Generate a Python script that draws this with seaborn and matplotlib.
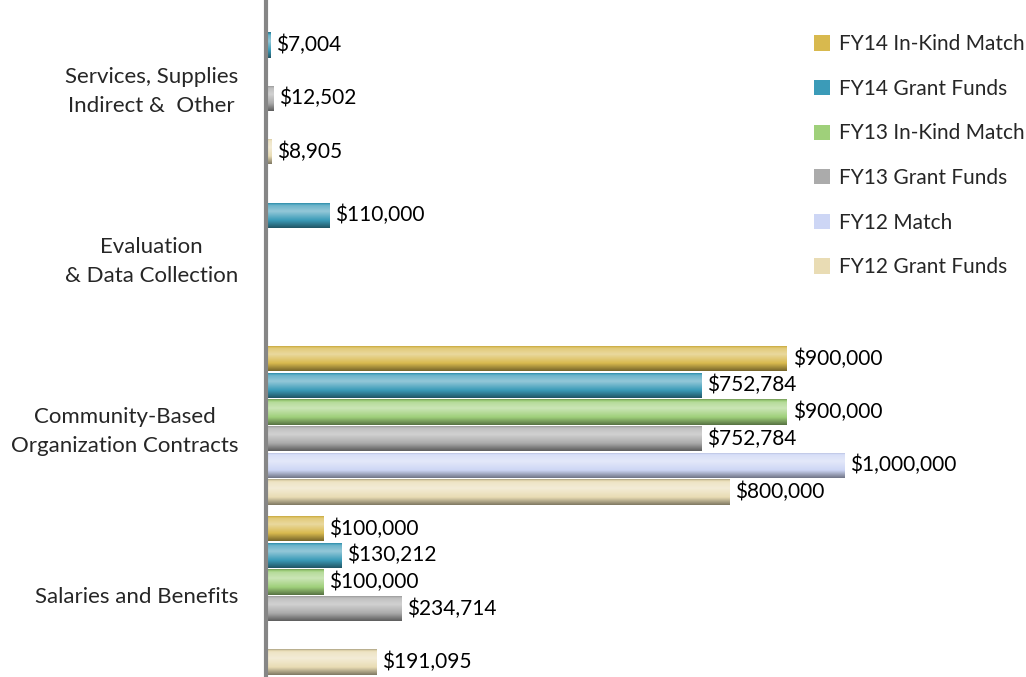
import numpy as np
import pandas as pd
import seaborn as sns
from matplotlib import pyplot as plt
from matplotlib.patches import Patch
from matplotlib.colors import to_rgb

# categories top to bottom
categories = ["Services, Supplies\nIndirect &  Other",
              "Evaluation\n& Data Collection",
              "Community-Based\nOrganization Contracts",
              "Salaries and Benefits"]

series = ["FY14 In-Kind Match", "FY14 Grant Funds", "FY13 In-Kind Match",
          "FY13 Grant Funds", "FY12 Match", "FY12 Grant Funds"]

fy14_match = [np.nan, np.nan, 900000, 100000]
fy14_grant = [7004, 110000, 752784, 130212]
fy13_match = [np.nan, np.nan, 900000, 100000]
fy13_grant = [12502, np.nan, 752784, 234714]
fy12_match = [np.nan, np.nan, 1000000, np.nan]
fy12_grant = [8905, np.nan, 800000, 191095]

colors = ["#d8b94e", "#3b9bb8", "#9fd07a", "#ababab", "#cdd6f5", "#e9dcb4"]

rows = []
for name, vals in zip(series, [fy14_match, fy14_grant, fy13_match,
                               fy13_grant, fy12_match, fy12_grant]):
    for cat, v in zip(categories, vals):
        rows.append({"category": cat, "series": name, "amount": v})
df = pd.DataFrame(rows).dropna()

sns.set_style("white")
plt.rcParams["font.family"] = ["Lato", "DejaVu Sans"]

fig = plt.figure(figsize=(10.26, 6.77), dpi=100)
ax = fig.add_axes([266 / 1026, 0, 734 / 1026, 1])

sns.barplot(data=df, x="amount", y="category", hue="series",
            order=categories, hue_order=series, palette=colors,
            orient="h", width=0.94, gap=0.05, legend=False, ax=ax,
            errorbar=None, edgecolor="none")

xlim = (0, 1268000)
ylim = (3.48, -0.5)

# cylinder-like shading on every bar
def shade(base):
    b = np.array(to_rgb(base))
    t = np.linspace(0, 1, 60)
    keys = [0.0, 0.12, 0.35, 0.7, 1.0]
    mix = [(-0.25), 0.25, 0.45, 0.0, -0.45]
    m = np.interp(t, keys, mix)
    out = np.empty((len(t), 3))
    for i, k in enumerate(m):
        if k >= 0:
            out[i] = b + (1 - b) * k
        else:
            out[i] = b * (1 + k)
    return out[:, None, :]

for cont, col in zip(ax.containers, colors):
    grad = shade(col)
    for p in cont.patches:
        x0, y0 = p.get_x(), p.get_y()
        w, h = p.get_width(), p.get_height()
        if not np.isfinite(w) or w == 0:
            continue
        im = ax.imshow(grad, extent=(x0, x0 + w, y0 + h, y0), aspect="auto",
                       origin="upper", zorder=p.get_zorder() + 0.1)
        im.set_clip_path(p)
    labels = ["" if not np.isfinite(v) else f"${v:,.0f}" for v in cont.datavalues]
    ax.bar_label(cont, labels=labels, padding=4, fontsize=15, color="black")

ax.set_xlim(*xlim)
ax.set_ylim(*ylim)

for s in ["top", "right", "bottom"]:
    ax.spines[s].set_visible(False)
ax.spines["left"].set_color("#868686")
ax.spines["left"].set_linewidth(3)
ax.set_xticks([])
ax.set_xlabel("")
ax.set_ylabel("")
ax.set_yticks(range(len(categories)))
ax.set_yticklabels(categories, multialignment="center", linespacing=1.55,
                   fontsize=16)
ax.set_yticks([0.5, 1.5, 2.5], minor=True)
ax.tick_params(axis="y", which="major", length=0, pad=20)
ax.tick_params(axis="y", which="minor", length=6, width=1.5, color="#868686",
               direction="out")

handles = [Patch(facecolor=c, edgecolor="none") for c in colors]
fig.legend(handles, series, loc="upper left",
           bbox_to_anchor=(806 / 1026, 1 - 26 / 677), frameon=False,
           fontsize=15, handlelength=0.75, handleheight=0.75,
           handletextpad=0.45, labelspacing=1.18, borderaxespad=0)

fig.savefig("out.png", dpi=100)
